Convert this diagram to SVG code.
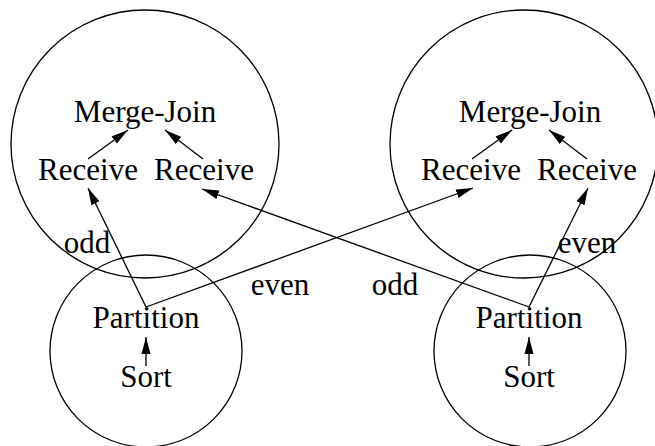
<svg xmlns="http://www.w3.org/2000/svg" width="655" height="446" viewBox="0 0 655 446">
<defs>
<marker id="ah" markerUnits="userSpaceOnUse" markerWidth="17" markerHeight="10" refX="17" refY="5" orient="auto">
<path d="M0,0.5 L17,5 L0,9.5 z" fill="#000"/>
</marker>
<style>
circle{fill:none;stroke:#000;stroke-width:1.3}
text{font-family:"Liberation Serif","Times New Roman",serif;font-size:31px;fill:#000;text-anchor:middle}
.c path{fill:none;stroke:#000;stroke-width:1.3}
.a{marker-end:url(#ah)}
</style>
</defs>
<rect width="655" height="446" fill="#fff"/>
<g id="site1">
<circle cx="145" cy="144" r="134"/>
<text x="145" y="122">Merge-Join</text>
<text x="88" y="180">Receive</text>
<text x="204" y="180">Receive</text>
</g>
<g id="site2">
<circle cx="524" cy="144" r="134"/>
<text x="530" y="122">Merge-Join</text>
<text x="471" y="180">Receive</text>
<text x="587" y="180">Receive</text>
</g>
<g id="node1">
<circle cx="146" cy="351" r="96"/>
<text x="146" y="328">Partition</text>
<text x="146" y="387">Sort</text>
</g>
<g id="node2">
<circle cx="530" cy="351" r="96"/>
<text x="529" y="328">Partition</text>
<text x="529" y="387">Sort</text>
</g>
<g id="connectors" class="c">
<path class="a" d="M88,159 L128,130"/>
<path class="a" d="M203,159 L165,130"/>
<path class="a" d="M472,159 L512,130"/>
<path class="a" d="M587,159 L549,130"/>
<path class="a" d="M146,307 L88,188"/>
<path class="a" d="M146,307 L473,188"/>
<path class="a" d="M529,307 L202,189"/>
<path class="a" d="M529,307 L588,188"/>
<path class="a" d="M146,366 L146,337"/>
<path class="a" d="M529,366 L529,337"/>
</g>
<g id="labels">
<text x="87" y="253">odd</text>
<text x="280" y="295">even</text>
<text x="395" y="295">odd</text>
<text x="587" y="253">even</text>
</g>
</svg>
